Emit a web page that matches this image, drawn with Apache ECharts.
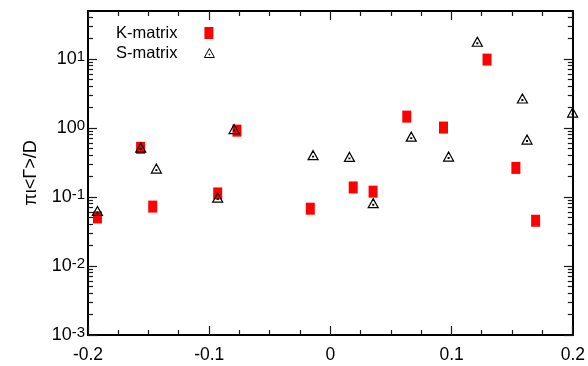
<!DOCTYPE html>
<html><head><meta charset="utf-8">
<script src="https://cdn.jsdelivr.net/npm/echarts@6/dist/echarts.min.js"></script>
<style>html,body{margin:0;padding:0;background:#fff}#c{width:588px;height:366px}</style>
</head><body><div id="c"></div>
<script>
// ---- data ----
const kMatrixX = [-0.1922, -0.1566, -0.1466, -0.0930, -0.0771, -0.0166, 0.0188, 0.0352, 0.0630, 0.0933, 0.1292, 0.1530, 0.1693];
const kMatrixY = [0.0507, 0.518, 0.0728, 0.113, 0.92, 0.0679, 0.138, 0.120, 1.47, 1.02, 9.87, 0.265, 0.0454];
const sMatrixX = [-0.1922, -0.1565, -0.1436, -0.0930, -0.0795, -0.0143, 0.0157, 0.0353, 0.0667, 0.0975, 0.1212, 0.1584, 0.1622, 0.1998];
const sMatrixY = [0.063, 0.523, 0.259, 0.0983, 0.97, 0.406, 0.383, 0.0816, 0.753, 0.387, 17.9, 2.69, 0.683, 1.68];
const seriesNames = ['K-matrix', 'S-matrix'];
// axis ranges and tick positions
const X_MIN = -0.2, X_MAX = 0.2, Y_MIN = 0.001, Y_MAX = 50;
const xTicks = [-0.2, -0.1, 0, 0.1, 0.2];
const xMinorTicks = [-0.175, -0.15, -0.125, -0.075, -0.05, -0.025, 0.025, 0.05, 0.075, 0.125, 0.15, 0.175];
const yMajorTicks = [0.001, 0.01, 0.1, 1, 10];
const yMinorTicks = [0.002, 0.003, 0.004, 0.005, 0.006, 0.007, 0.008, 0.009,
                     0.02, 0.03, 0.04, 0.05, 0.06, 0.07, 0.08, 0.09,
                     0.2, 0.3, 0.4, 0.5, 0.6, 0.7, 0.8, 0.9,
                     2, 3, 4, 5, 6, 7, 8, 9,
                     20, 30, 40];

const FONT = "'Liberation Sans', Arial, Helvetica, sans-serif";
const chart = echarts.init(document.getElementById('c'));
const pair = (xs, ys) => xs.map((x, i) => [x, ys[i]]);
const triPath = 'path://M5,0 L10,9 L0,9 Z M4.6,5.6 L5.4,5.6 L5.4,6.4 L4.6,6.4 Z';

function yAxisCfg(pos, showLabel) {
  return {
    type: 'log', logBase: 10, min: Y_MIN, max: Y_MAX, position: pos,
    axisLine: {show: true, onZero: false, lineStyle: {color: '#000', width: 2}},
    axisTick: {show: false}, minorTick: {show: false}, splitLine: {show: false},
    axisLabel: showLabel ? {
      show: true, margin: 3, customValues: yMajorTicks,
      formatter: v => '{b|10}{e|' + Math.round(Math.log10(v)) + '}',
      rich: {
        b: {fontFamily: FONT, fontSize: 18, color: '#000', lineHeight: 20},
        e: {fontFamily: FONT, fontSize: 15, color: '#000', lineHeight: 3, verticalAlign: 'top'}
      }
    } : {show: false},
    name: showLabel ? 'πι<Γ>/D' : '',
    nameLocation: 'middle', nameGap: 48, nameRotate: 90,
    nameTextStyle: {fontFamily: FONT, fontSize: 18, color: '#000'}
  };
}
function xAxisCfg(pos, showLabel) {
  return {
    type: 'value', min: X_MIN, max: X_MAX, interval: 0.1, position: pos,
    axisLine: {show: true, onZero: false, lineStyle: {color: '#000', width: 2}},
    axisTick: {show: false}, minorTick: {show: false}, splitLine: {show: false},
    axisLabel: showLabel ? {show: true, margin: 11, fontFamily: FONT, fontSize: 17.5, color: '#000',
      customValues: xTicks, formatter: v => String(+v.toFixed(2))} : {show: false}
  };
}

chart.setOption({
  animation: false,
  backgroundColor: '#fff',
  grid: {left: 88, right: 11, top: 11, bottom: 31},
  legend: [
    {data: [seriesNames[0]], left: 116, top: 23, padding: 0, orient: 'vertical', align: 'right', itemWidth: 9, itemHeight: 12,
     textStyle: {fontFamily: FONT, fontSize: 16.5, color: '#000', lineHeight: 20, padding: [0, 22, 0, 0]}},
    {data: [seriesNames[1]], left: 116, top: 43, padding: 0, orient: 'vertical', align: 'right', itemWidth: 10, itemHeight: 9,
     itemStyle: {borderWidth: 1},
     textStyle: {fontFamily: FONT, fontSize: 16.5, color: '#000', lineHeight: 20, padding: [0, 22, 0, 0]}}
  ],
  xAxis: [xAxisCfg('bottom', true), xAxisCfg('top', false)],
  yAxis: [yAxisCfg('left', true), yAxisCfg('right', false)],
  series: [
    {name: seriesNames[0], type: 'scatter', data: pair(kMatrixX, kMatrixY), symbol: 'rect', symbolSize: [9, 12],
     itemStyle: {color: '#ff0000', opacity: 1}, z: 3},
    {name: seriesNames[1], type: 'scatter', data: pair(sMatrixX, sMatrixY), symbol: triPath, symbolSize: [10, 9],
     itemStyle: {color: 'rgba(255,255,255,0)', borderColor: '#000', borderWidth: 1.2, opacity: 1}, z: 4}
  ]
});

// tick marks: positions converted through the chart's own axes
const finder = {xAxisIndex: 0, yAxisIndex: 0};
const toPx = (x, y) => chart.convertToPixel(finder, [x, y]);
const tickEls = [];
function addLine(x1, y1, x2, y2) {
  tickEls.push({type: 'line', silent: true, z: 100,
    shape: {x1: x1, y1: y1, x2: x2, y2: y2},
    style: {stroke: '#1a1a1a', lineWidth: 1.2}});
}
function xTick(v, len) {
  const b = toPx(v, Y_MIN), t = toPx(v, Y_MAX);
  const x = Math.floor(b[0]) + 0.5;
  addLine(x, b[1], x, b[1] - len);
  addLine(x, t[1], x, t[1] + len);
}
function yTick(v, len) {
  const l = toPx(X_MIN, v), r = toPx(X_MAX, v);
  const y = Math.floor(l[1]) + 0.5;
  addLine(l[0], y, l[0] + len, y);
  addLine(r[0], y, r[0] - len, y);
}
xTicks.forEach(v => xTick(v, 9));
xMinorTicks.forEach(v => xTick(v, 5));
yMajorTicks.forEach(v => yTick(v, 9));
yMinorTicks.forEach(v => yTick(v, 5));
chart.setOption({graphic: {elements: tickEls}});
</script></body></html>
